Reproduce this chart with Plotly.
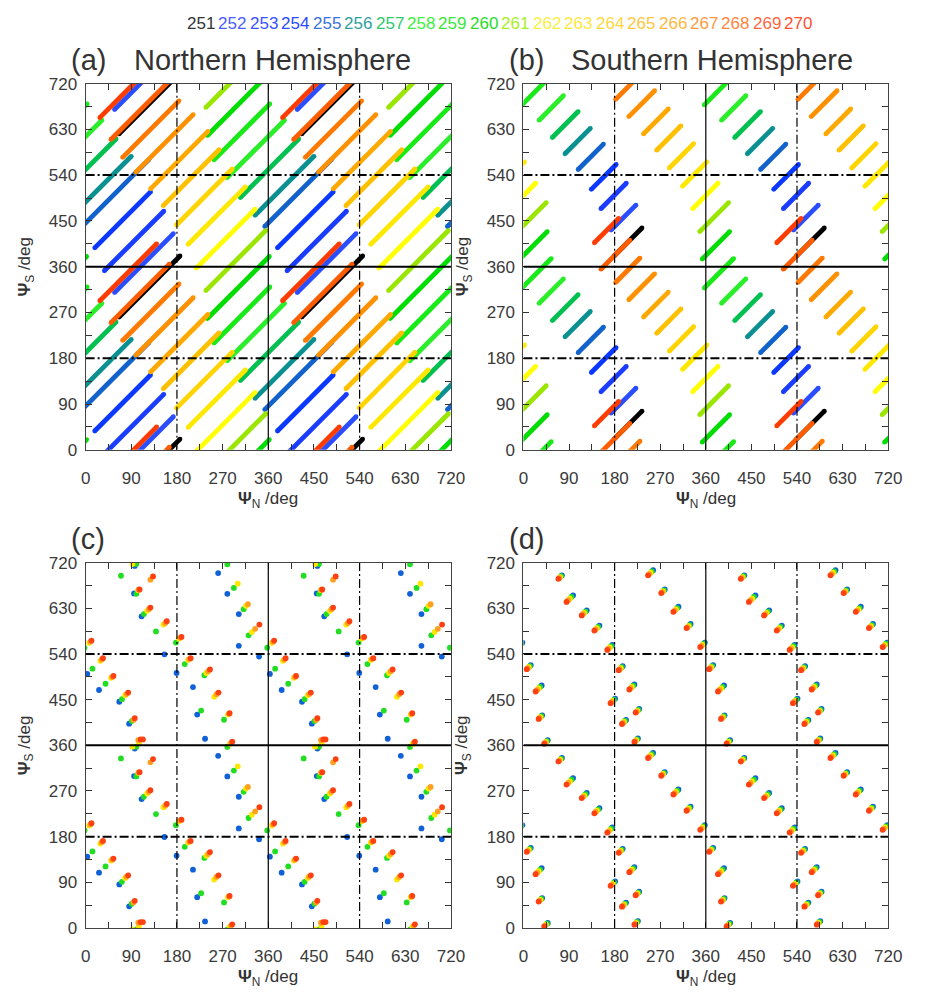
import plotly.graph_objects as go

FIG_W, FIG_H = 925, 1004

# ---------------- colour key ----------------
RUN_IDS = [251, 252, 253, 254, 255, 256, 257, 258, 259, 260,
           261, 262, 263, 264, 265, 266, 267, 268, 269, 270]
LINE_COLORS = ['#000000', '#2a4dff', '#1a3cff', '#0a38ff', '#1262cc', '#0a9090',
               '#00c050', '#2aee2a', '#18ea18', '#00dd00', '#9ae600', '#ffff00',
               '#ffe800', '#ffd400', '#ffc000', '#ffa800', '#ff9000', '#ff7800',
               '#ff5c00', '#ff3c00']
KEY_COLORS = ['#333333', '#4a5cff', '#3a52ff', '#2a4aff', '#3a72dd', '#30a0a0',
              '#30c870', '#40f040', '#38e838', '#28dd28', '#a8f020', '#f8f040',
              '#ffe840', '#ffd840', '#ffc840', '#ffb840', '#ff9a40', '#ff8440',
              '#ff6640', '#ff5030']

# ---------------- panel (a): Northern Hemisphere segments (deg) ----------------
A_X0 = [66, 57, 37, 18, 353, 334, 305, 279, 253, 240, 237, 218, 202, 179, 153, 128, 99, 73, 50, 28]
A_Y0 = [261, 309, -8, 37, 79, 101, 136, 175, 210, 258, 313, -3, 44, 82, 120, 153, 186, 215, 250, 293]
A_X1 = [186, 173, 154, 128, 485, 450, 420, 392, 363, 362, 355, 334, 315, 289, 263, 241, 212, 184, 165, 140]
A_Y1 = [381, 425, 109, 147, 211, 217, 251, 288, 320, 380, 431, 113, 157, 192, 230, 266, 299, 326, 365, 405]

# ---------------- panel (b): Southern Hemisphere segments (deg) ----------------
B_X0 = [179, 173, 153, 134, 108, 82, 57, 31, -3, 353, 348, 334, 314, 288, 263, 237, 208, 182, 153, 140]
B_Y0 = [21, 72, 114, 152, 191, 222, 254, 288, 318, 15, 69, 114, 158, 194, 229, 261, 295, 329, -5, 47]
B_X1 = [234, 222, 203, 183, 158, 132, 108, 79, 55, 407, 405, 384, 362, 336, 311, 286, 259, 230, 210, 188]
B_Y1 = [76, 121, 164, 201, 241, 272, 305, 336, 376, 69, 126, 164, 206, 242, 277, 310, 346, 377, 52, 95]

# ---------------- panel (c): points (deg) ----------------
DOT_NAMES = ['blue', 'green', 'yellow', 'orange', 'red']
DOT_COLORS = ['#1060d8', '#22dd22', '#ffe600', '#ffa020', '#ff4010']

C_BLUE_X = [96.8, 95.5, 110.3, 155.4, 3.2, 26.4, 66.4, 85.8, 261.2, 279.3, 301.9, 301.9, 341.9, 179.3, 211.6, 219.9, 235.4]
C_BLUE_Y = [353.5, 299.3, 254.1, 179.3, 140.6, 109.0, 85.8, 42.6, 339.3, 298.6, 258.6, 196.1, 174.8, 142.5, 114.8, 60.6, 12.9]
C_GREEN_X = [100.0, 69.7, 100.0, 114.8, 138.7, 178.0, 13.5, 39.3, 71.6, 90.9, 279.3, 292.2, 311.5, 321.2, 358.0, 195.4, 234.1, 227.7, 272.8]
C_GREEN_Y = [357.3, 334.1, 298.6, 258.6, 224.5, 202.5, 150.9, 121.3, 90.9, 47.7, 356.7, 310.2, 268.3, 216.7, 192.2, 160.0, 138.0, 68.4, 50.3]
C_YELLOW_X = [92.2, 103.8, 121.3, 153.5, 7.1, 183.8, 29.0, 50.3, 78.0, 105.1, 299.9, 316.0, 327.7, 201.9, 238.0, 253.5, 280.6, 284.4]
C_YELLOW_Y = [357.3, 305.7, 265.1, 238.0, 201.9, 210.3, 166.4, 132.9, 98.7, 3.9, 318.6, 274.8, 223.2, 168.3, 142.5, 95.5, 60.6, 2.6]
C_ORANGE_X = [127.7, 104.5, 124.5, 157.0, 31.5, 52.5, 80.5, 94.3, 103.8, 319.9, 334.1, 204.5, 241.5, 258.0, 282.5, 286.7, 9.5, 186.5]
C_ORANGE_Y = [326.4, 306.5, 268.3, 241.0, 169.0, 134.5, 101.0, 50.0, 10.3, 278.0, 229.6, 170.0, 146.0, 100.6, 62.0, 4.8, 204.0, 212.0]
C_RED_X = [132.9, 106.4, 127.7, 160.0, 11.6, 189.0, 34.2, 54.8, 83.9, 96.8, 108.4, 112.9, 342.5, 207.0, 245.1, 261.9, 283.8, 289.0]
C_RED_Y = [332.8, 307.0, 271.5, 244.5, 206.4, 213.5, 171.6, 136.7, 103.8, 53.5, 11.6, 11.6, 238.0, 171.6, 149.6, 103.8, 63.2, 7.1]

# ---------------- panel (d): points (deg) ----------------
D_RED_X = [41.0, 69.0, 85.0, 115.0, 140.0, 165.5, 6.5, 24.0, 30.0, 172.0, 194.5, 219.0, 246.0, 272.0, 296.0, 322.0, 349.0, 188.0, 209.0, 221.5]
D_RED_Y = [3.0, 328.0, 282.5, 256.0, 226.0, 188.0, 150.0, 106.0, 52.0, 83.0, 42.0, 6.5, 335.0, 300.0, 263.0, 231.0, 193.5, 148.0, 110.0, 64.5]
D_ORANGE_X = [42.8, 70.8, 88.3, 117.5, 142.5, 168.0, 8.5, 27.0, 31.8, 174.3, 196.5, 220.8, 248.5, 273.8, 298.5, 324.0, 351.3, 190.0, 211.5, 223.3]
D_ORANGE_Y = [4.8, 329.8, 285.8, 258.5, 228.5, 190.5, 152.0, 109.0, 53.8, 85.3, 44.0, 8.3, 337.5, 301.8, 265.5, 233.0, 195.8, 150.0, 112.5, 66.3]
D_YELLOW_X = [44.5, 72.5, 91.5, 120.0, 145.0, 170.5, 10.5, 30.0, 33.5, 176.5, 198.5, 222.5, 251.0, 275.5, 301.0, 326.0, 353.5, 192.0, 214.0, 225.0]
D_YELLOW_Y = [6.5, 331.5, 289.0, 261.0, 231.0, 193.0, 154.0, 112.0, 55.5, 87.5, 46.0, 10.0, 340.0, 303.5, 268.0, 235.0, 198.0, 152.0, 115.0, 68.0]
D_GREEN_X = [46.3, 74.3, 94.8, 122.5, 147.5, 173.0, 12.5, 33.0, 35.3, 178.8, 200.5, 224.3, 253.5, 277.3, 303.5, 328.0, 355.8, 194.0, 216.5, 226.8]
D_GREEN_Y = [8.3, 333.3, 292.3, 263.5, 233.5, 195.5, 156.0, 115.0, 57.3, 89.8, 48.0, 11.8, 342.5, 305.3, 270.5, 237.0, 200.3, 154.0, 117.5, 69.8]
D_BLUE_X = [48.0, 76.0, 98.0, 125.0, 150.0, 175.5, 14.5, 36.0, 37.0, 181.0, 202.5, 226.0, 256.0, 279.0, 306.0, 330.0, 358.0, 196.0, 219.0, 228.5]
D_BLUE_Y = [10.0, 335.0, 295.5, 266.0, 236.0, 198.0, 158.0, 118.0, 59.0, 92.0, 50.0, 13.5, 345.0, 307.0, 273.0, 239.0, 202.5, 156.0, 120.0, 71.5]

# ---------------- axes labels ----------------
TICK_VALUES = [0, 90, 180, 270, 360, 450, 540, 630, 720]
TICK_LABELS = ['0', '90', '180', '270', '360', '450', '540', '630', '720']
MINOR_STEP = 45
PANEL_TITLES = ['(a)', '(b)', '(c)', '(d)']
HEMI_TITLES = ['Northern Hemisphere', 'Southern Hemisphere']
X_TITLE = '<b>Ψ</b><sub>N</sub> /deg'
Y_TITLE = '<b>Ψ</b><sub>S</sub> /deg'

SHIFTS = (-360, 0, 360)   # the phase plane is shown as two periods in each direction


def tile_segments(x0s, y0s, x1s, y1s, idx):
    xs, ys = [], []
    for sx in SHIFTS:
        for sy in SHIFTS:
            xs += [x0s[idx] + sx, x1s[idx] + sx, None]
            ys += [y0s[idx] + sy, y1s[idx] + sy, None]
    return xs, ys


def tile_points(px, py):
    xs, ys = [], []
    for a, b in zip(px, py):
        for sx in SHIFTS:
            for sy in SHIFTS:
                xs.append(a + sx)
                ys.append(b + sy)
    return xs, ys


fig = go.Figure()

# pixel geometry of the four plot areas
PX_LEFT = [(82.3, 455.3), (529.3, 901.7)]
PX_ROWS = [(76.0, 449.3), (564.3, 936.7)]

axis_ids = [('x', 'y'), ('x2', 'y2'), ('x3', 'y3'), ('x4', 'y4')]

for i in range(2):
    x0s, y0s, x1s, y1s = (A_X0, A_Y0, A_X1, A_Y1) if i == 0 else (B_X0, B_Y0, B_X1, B_Y1)
    xa, ya = axis_ids[i]
    for k in range(len(RUN_IDS)):
        xs, ys = tile_segments(x0s, y0s, x1s, y1s, k)
        fig.add_trace(go.Scatter(x=xs, y=ys, mode='lines+markers',
                                 line=dict(color=LINE_COLORS[k], width=4.8),
                                 marker=dict(color=LINE_COLORS[k], size=4.8),
                                 xaxis=xa, yaxis=ya, showlegend=False,
                                 hoverinfo='skip'))

C_SETS = [(C_BLUE_X, C_BLUE_Y), (C_GREEN_X, C_GREEN_Y), (C_YELLOW_X, C_YELLOW_Y),
          (C_ORANGE_X, C_ORANGE_Y), (C_RED_X, C_RED_Y)]
D_SETS = [(D_BLUE_X, D_BLUE_Y), (D_GREEN_X, D_GREEN_Y), (D_YELLOW_X, D_YELLOW_Y),
          (D_ORANGE_X, D_ORANGE_Y), (D_RED_X, D_RED_Y)]

for i, sets in ((2, C_SETS), (3, D_SETS)):
    xa, ya = axis_ids[i]
    for j, (px, py) in enumerate(sets):
        xs, ys = tile_points(px, py)
        fig.add_trace(go.Scatter(x=xs, y=ys, mode='markers',
                                 marker=dict(color=DOT_COLORS[j], size=5.8),
                                 xaxis=xa, yaxis=ya, showlegend=False,
                                 hoverinfo='skip'))

layout = dict(width=FIG_W, height=FIG_H, margin=dict(l=0, r=0, t=0, b=0),
              paper_bgcolor='white', plot_bgcolor='white',
              font=dict(family='Liberation Sans, Arial, sans-serif', color='#333'))

shapes = []
annotations = []
for i in range(4):
    col, row = i % 2, i // 2
    xl, xr = PX_LEFT[col]
    yt, yb = PX_ROWS[row]
    sfx = '' if i == 0 else str(i + 1)
    common = dict(range=[0, 720], tickmode='array', tickvals=TICK_VALUES,
                  ticktext=TICK_LABELS, ticks='inside', ticklen=6, tickwidth=1,
                  tickcolor='#333', showline=True, linecolor='#444', linewidth=1,
                  mirror='allticks', showgrid=False, zeroline=False,
                  minor=dict(ticks='inside', ticklen=6, tickwidth=1, tickcolor='#333',
                             tick0=0, dtick=MINOR_STEP, showgrid=False),
                  tickfont=dict(size=17, color='#3a3a3a'))
    layout['xaxis' + sfx] = dict(domain=[xl / FIG_W, xr / FIG_W],
                                 anchor='y' + sfx, ticklabelstandoff=13, **common)
    layout['yaxis' + sfx] = dict(domain=[1 - yb / FIG_H, 1 - yt / FIG_H],
                                 anchor='x' + sfx, ticklabelstandoff=4, **common)
    xr_ref, yr_ref = 'x' + sfx, 'y' + sfx
    for v in (180, 540):
        shapes.append(dict(type='line', xref=xr_ref, yref=yr_ref, x0=v, x1=v, y0=0, y1=720,
                           line=dict(color='black', width=1.2, dash='9px,3px,2px,3px'), layer='above'))
        shapes.append(dict(type='line', xref=xr_ref, yref=yr_ref, y0=v, y1=v, x0=0, x1=720,
                           line=dict(color='black', width=2, dash='9px,3px,2px,3px'), layer='above'))
    shapes.append(dict(type='line', xref=xr_ref, yref=yr_ref, x0=360, x1=360, y0=0, y1=720,
                       line=dict(color='black', width=1.2), layer='above'))
    shapes.append(dict(type='line', xref=xr_ref, yref=yr_ref, y0=360, y1=360, x0=0, x1=720,
                       line=dict(color='black', width=2), layer='above'))

    # axis titles
    annotations.append(dict(text=X_TITLE, xref='paper', yref='paper',
                            x=(xl + xr) / 2 / FIG_W, y=1 - (yb + 51) / FIG_H,
                            xanchor='center', yanchor='middle', showarrow=False,
                            font=dict(size=17, color='#333')))
    annotations.append(dict(text=Y_TITLE, xref='paper', yref='paper',
                            x=(xl - 61) / FIG_W, y=1 - (yt + yb) / 2 / FIG_H,
                            xanchor='center', yanchor='middle', showarrow=False,
                            textangle=-90, font=dict(size=17, color='#333')))
    # panel letters
    annotations.append(dict(text=PANEL_TITLES[i], xref='paper', yref='paper',
                            x=(xl - 17) / FIG_W, y=1 - (yt - 24) / FIG_H,
                            xanchor='left', yanchor='middle', showarrow=False,
                            font=dict(size=29, color='#333')))
    if row == 0:
        annotations.append(dict(text=HEMI_TITLES[col], xref='paper', yref='paper',
                                x=(xl + 47) / FIG_W, y=1 - (yt - 24) / FIG_H,
                                xanchor='left', yanchor='middle', showarrow=False,
                                font=dict(size=29, color='#333')))

# colour key along the top
for k, rid in enumerate(RUN_IDS):
    annotations.append(dict(text=str(rid), xref='paper', yref='paper',
                            x=(200 + k * 32.1) / FIG_W, y=1 - 15 / FIG_H,
                            xanchor='center', yanchor='middle', showarrow=False,
                            font=dict(size=17, color=KEY_COLORS[k])))

layout['shapes'] = shapes
layout['annotations'] = annotations
fig.update_layout(**layout)
fig.write_html("out.html")
